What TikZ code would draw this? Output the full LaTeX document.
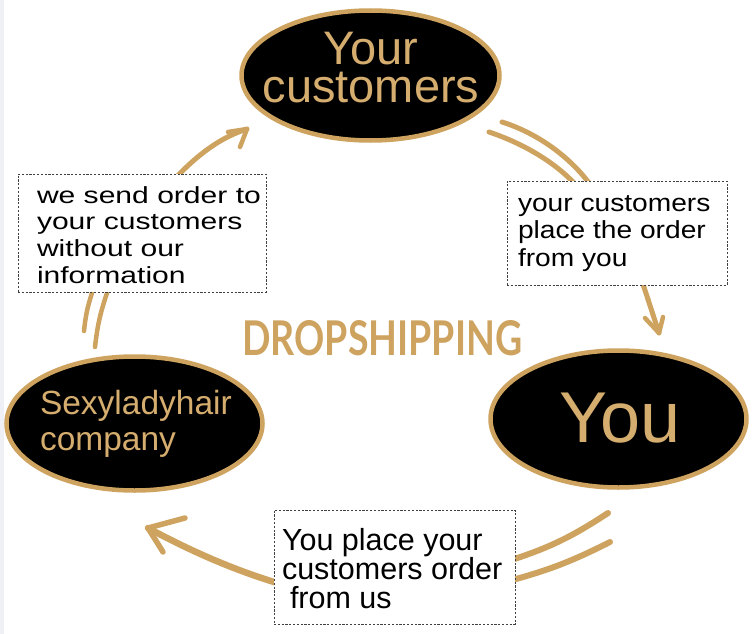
\documentclass[tikz,border=0pt]{standalone}
\usepackage{fontspec}
\usepackage{graphicx}
\setmainfont{Liberation Sans}
\newfontfamily\dropfont{Lato}
\usetikzlibrary{shapes.geometric}
\definecolor{gold}{RGB}{205,163,95}
\definecolor{goldtext}{RGB}{213,173,110}
\definecolor{edgegray}{RGB}{238,240,245}
\begin{document}
\begin{tikzpicture}[x=1pt,y=-1pt,
  oval/.style={ellipse, draw=gold, line width=4.5pt, fill=black, inner sep=0pt},
  notebox/.style={rectangle, draw=black!75, fill=white, dash pattern=on 2.2pt off 1.6pt, line width=0.7pt, inner sep=0pt},
  stroke/.style={draw=gold, line width=5pt, line cap=round, line join=round},
  txt/.style={inner sep=0pt, outer sep=0pt, align=left, text=black},
  ovaltxt/.style={inner sep=0pt, outer sep=0pt, text=goldtext}
]
\path[fill=white] (0,0) rectangle (755,634);
\useasboundingbox (0,0) rectangle (755,634);
\fill[edgegray] (0,0) rectangle (4,634);

% ---- strokes / arrows ----
% left (company -> customers)
\coordinate (la1) at (92,293);  \coordinate (la2) at (84,331);
\coordinate (lb1) at (107,293); \coordinate (lb2) at (95,347);
\draw[stroke, line width=4.5pt] (la1) to[bend right=6] (la2);
\draw[stroke, line width=4.5pt] (lb1) to[bend right=6] (lb2);
\coordinate (lstart) at (170,184);
\coordinate (ltip) at (247,129);
\coordinate (lh1) at (228,132);
\coordinate (lh2) at (240,147);
\draw[stroke] (lstart) .. controls (198,153) and (222,137) .. (ltip);
\draw[stroke, line width=4.5pt] (lh1) -- (ltip) -- (lh2);

% right (customers -> you)
\coordinate (ra1) at (502,122); \coordinate (ra2) at (594,190);
\coordinate (rb1) at (489,132); \coordinate (rb2) at (580,190);
\draw[stroke] (ra1) .. controls (540,134) and (574,160) .. (ra2);
\draw[stroke] (rb1) .. controls (525,144) and (560,165) .. (rb2);
\coordinate (rstart) at (641,278);
\coordinate (rtip) at (659,333);
\coordinate (rh1) at (645,318);
\coordinate (rh2) at (663,317);
\draw[stroke] (rstart) -- (rtip);
\draw[stroke, line width=4.5pt] (rh1) -- (rtip) -- (rh2);

% bottom (you -> company)
\coordinate (ba1) at (608,513); \coordinate (ba2) at (505,562);
\coordinate (bb1) at (610,542); \coordinate (bb2) at (505,582);
\draw[stroke, line width=6pt] (ba1) to[bend left=8] (ba2);
\draw[stroke, line width=6pt] (bb1) to[bend left=6] (bb2);
\coordinate (bstart) at (284,585);
\coordinate (btip) at (148,528);
\coordinate (bh1) at (185,518);
\coordinate (bh2) at (163,552);
\draw[stroke, line width=6.5pt] (bstart) .. controls (232,570) and (185,548) .. (btip);
\draw[stroke, line width=5.5pt] (bh1) -- (btip) -- (bh2);

% ---- ovals ----
\node[oval, minimum width=258, minimum height=130] (cust) at (370.5,75.5) {};
\node[oval, minimum width=256, minimum height=134] (comp) at (134.5,423.5) {};
\node[oval, minimum width=256, minimum height=137] (you) at (618.5,419) {};

\node[ovaltxt, anchor=north, align=center, font=\fontsize{47}{38}\selectfont] (custtxt) at (371,32.3) {Your\\customers};
\node[ovaltxt, anchor=base, font=\fontsize{72}{80}\selectfont] (youtxt) at (620,442) {You};
\node[ovaltxt, anchor=north west, align=left, font=\fontsize{33.5}{36}\selectfont] (comptxt) at (40,390) {Sexyladyhair\\company};

% ---- note boxes ----
\node[notebox, minimum width=248, minimum height=118] (lbox) at (142,233) {};
\node[notebox, minimum width=220, minimum height=104] (rbox) at (617,233) {};
\node[notebox, minimum width=241, minimum height=114] (bbox) at (394.5,567) {};

\node[txt, anchor=north west, xscale=1.29, font=\fontsize{23.3}{26.7}\selectfont] (lt) at (37,186.3) {we send order to\\your customers\\without our\\information};
\node[txt, anchor=north west, xscale=1.14, font=\fontsize{24.7}{27.5}\selectfont] (rt) at (518,195.5) {your customers\\place the order\\from you};
\node[txt, anchor=north west, font=\fontsize{30.5}{29}\selectfont] (bt) at (282,528.2) {You place your\\customers order\\\hspace*{8pt}from us};

% ---- title ----
\node[inner sep=0pt, anchor=north west, text=gold] (drop) at (242,320) {\resizebox{280pt}{35pt}{\dropfont\bfseries DROPSHIPPING}};
\end{tikzpicture}
\end{document}
